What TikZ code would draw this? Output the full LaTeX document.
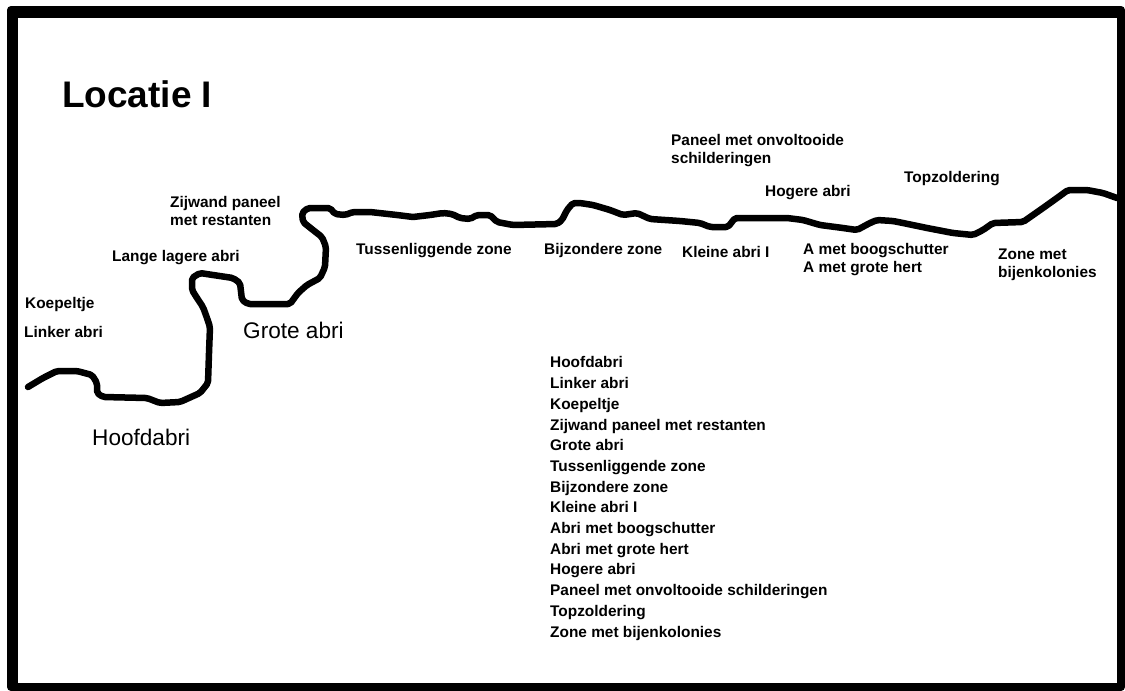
\documentclass[tikz,border=0pt]{standalone}
\usepackage{fontspec}
\setmainfont{Liberation Sans}
\usetikzlibrary{calc}
\tikzstyle{maplabel} = [anchor=base west, inner sep=0pt, align=left, font=\bfseries\fontsize{15.4}{18}\selectfont]
\tikzstyle{biglabel} = [anchor=base west, inner sep=0pt, font=\fontsize{22.6}{27}\selectfont]
\tikzstyle{listlabel} = [anchor=base west, inner sep=0pt, align=left, font=\bfseries\fontsize{15.4}{20.7}\selectfont]
\tikzstyle{cliff} = [line width=6.5pt, line join=round, line cap=round, rounded corners=2pt]

\begin{document}
\begin{tikzpicture}[x=1pt, y=-1pt]
\useasboundingbox (0,0) rectangle (1125,691);
\fill[white] (0,0) rectangle (1125,691);
% frame
\fill[black, rounded corners=4pt] (7,6) rectangle (1125,691);
\fill[white] (18,18) rectangle (1117,683);

\node[anchor=base west, inner sep=0pt, font=\bfseries\fontsize{37}{44}\selectfont] (title) at (62,107) {Locatie I};

% rock wall
\draw[cliff] (28,387) -- (43,378) -- (57,371) -- (77,371) -- (92,375) -- (97,383) -- (97,393)
  -- (103,397) -- (147,398) -- (160,403) -- (180,402) -- (200,393) -- (208,383) -- (209,353)
  -- (210,327) -- (207,318) -- (203,307) -- (197,298) -- (192,290) -- (192,278) -- (200,273)
  -- (213,275) -- (233,278) -- (240,283) -- (242,300) -- (248,304) -- (290,304) -- (298,293)
  -- (307,285) -- (320,278) -- (325,267) -- (326,247) -- (322,237) -- (313,230) -- (303,222)
  -- (302,213) -- (308,208) -- (330,208) -- (335,214) -- (345,215) -- (353,212) -- (370,212)
  -- (397,215) -- (413,217) -- (430,215) -- (443,213) -- (452,214) -- (460,218) -- (470,219)
  -- (477,215) -- (490,215) -- (497,222) -- (513,225) -- (557,224) -- (562,220) -- (567,210)
  -- (573,203) -- (580,203) -- (593,205) -- (610,210) -- (623,215) -- (637,213) -- (650,219)
  -- (680,221) -- (700,223) -- (710,227) -- (728,227) -- (735,218) -- (787,218) -- (803,220)
  -- (820,225) -- (843,228) -- (857,230) -- (870,223) -- (877,220) -- (893,221) -- (903,223)
  -- (927,228) -- (953,233) -- (973,235) -- (983,230) -- (993,223) -- (1023,222) -- (1033,215)
  -- (1043,208) -- (1057,198) -- (1068,190) -- (1087,190) -- (1103,193) -- (1117,198);

% labels along the wall (base = last line)
\node[maplabel] (paneel) at (671,163) {Paneel met onvoltooide\\schilderingen};
\node[maplabel] (topzolder) at (904,182) {Topzoldering};
\node[maplabel] (hogere) at (765,196) {Hogere abri};
\node[maplabel] (zijwand) at (170,225) {Zijwand paneel\\met restanten};
\node[maplabel] (lange) at (112,261) {Lange lagere abri};
\node[maplabel] (tussen) at (356,254) {Tussenliggende zone};
\node[maplabel] (bijzonder) at (544,254) {Bijzondere zone};
\node[maplabel] (kleine) at (682,257) {Kleine abri I};
\node[maplabel] (boog) at (803,272) {A met boogschutter\\A met grote hert};
\node[maplabel] (bijen) at (998,277) {Zone met\\bijenkolonies};
\node[maplabel] (koepel) at (25,308) {Koepeltje};
\node[maplabel] (linker) at (24,337) {Linker abri};
\node[biglabel] (grote) at (243,338) {Grote abri};
\node[biglabel] (hoofd) at (92,445) {Hoofdabri};

% legend
\node[listlabel] (lijst) at (550,637) {Hoofdabri\\Linker abri\\Koepeltje\\Zijwand paneel met restanten\\Grote abri\\Tussenliggende zone\\Bijzondere zone\\Kleine abri I\\Abri met boogschutter\\Abri met grote hert\\Hogere abri\\Paneel met onvoltooide schilderingen\\Topzoldering\\Zone met bijenkolonies};
\end{tikzpicture}
\end{document}
